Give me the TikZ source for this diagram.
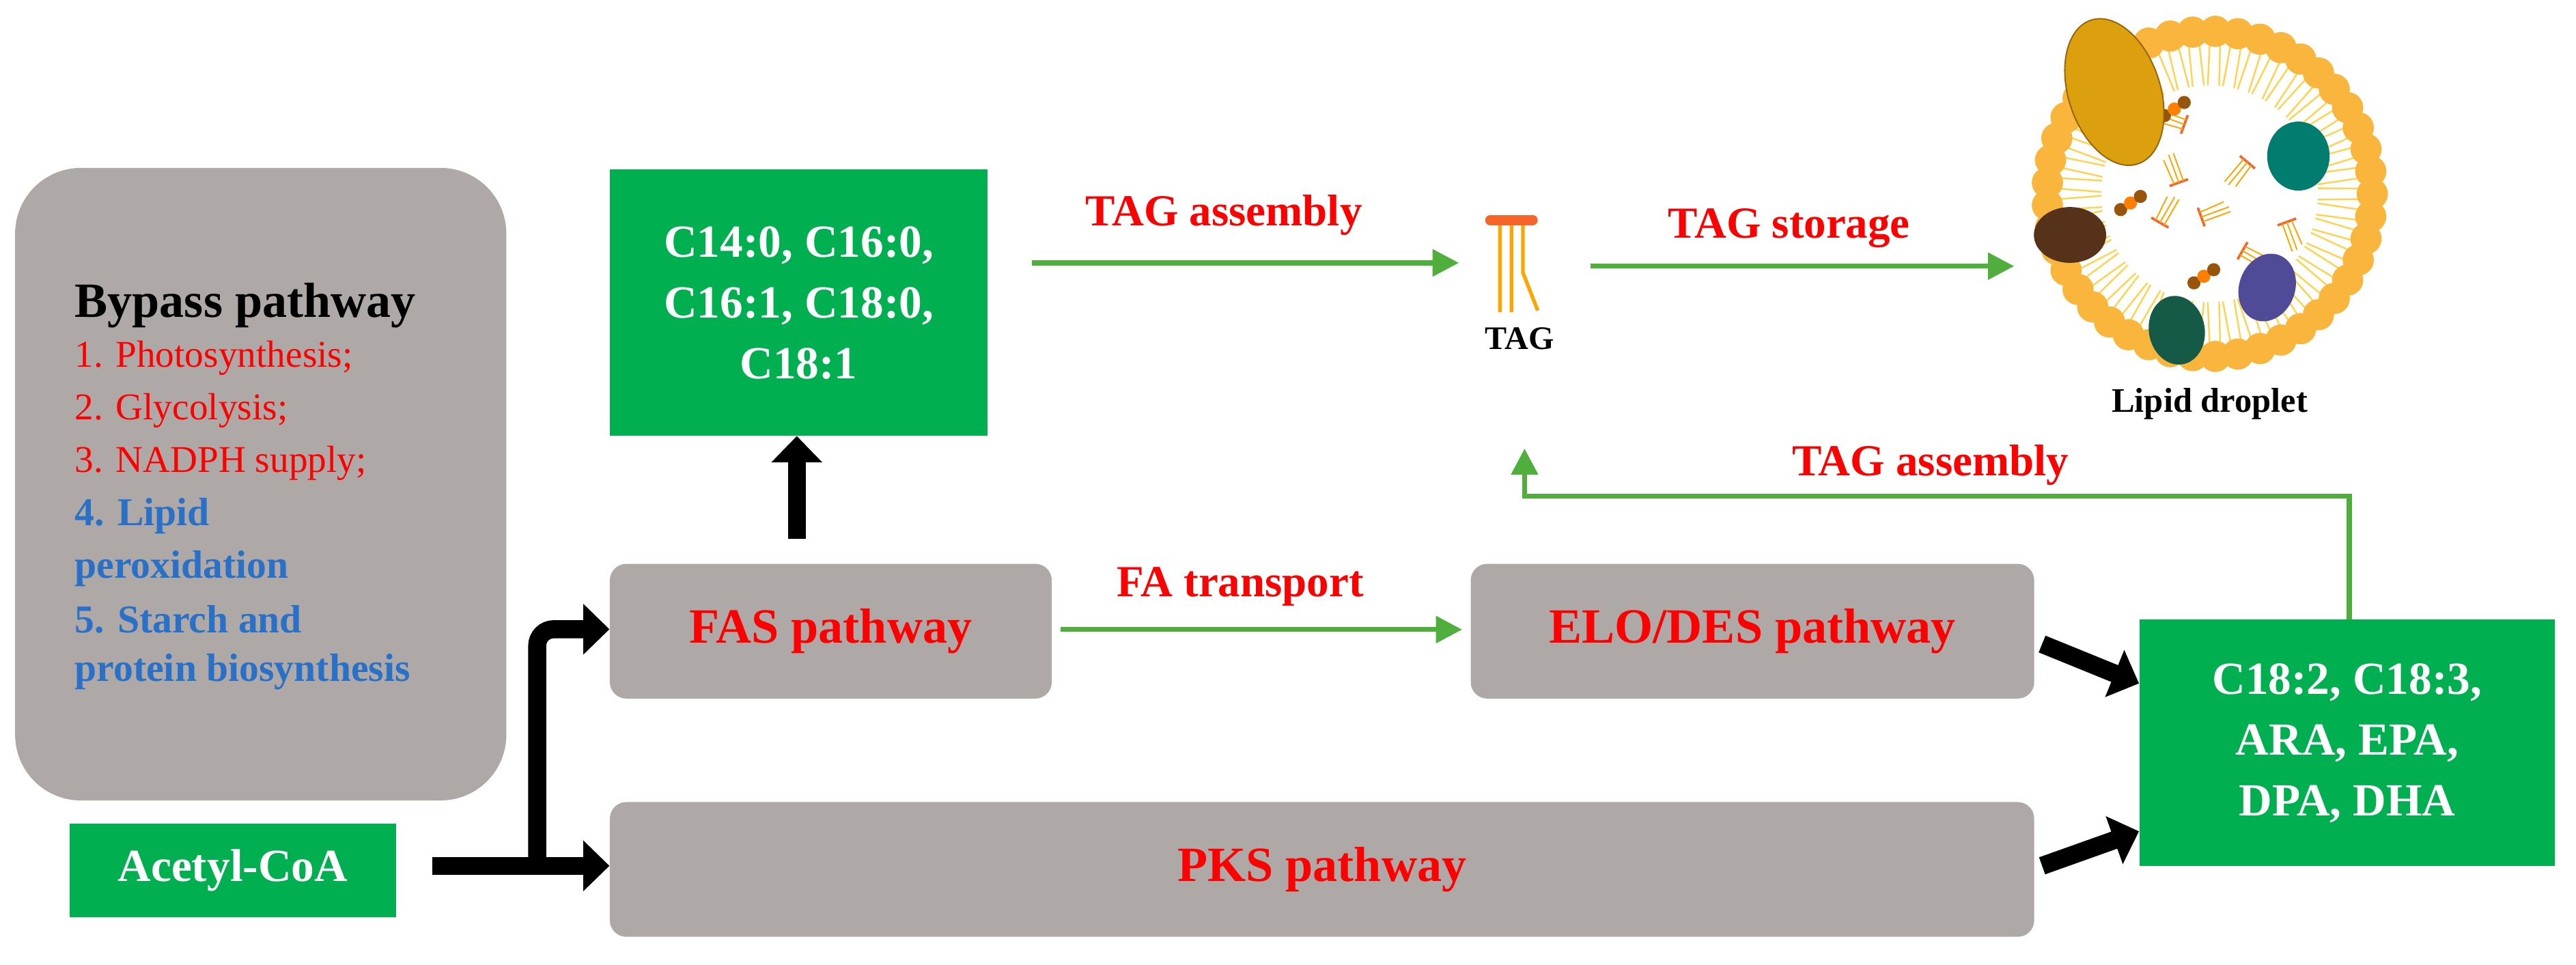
\documentclass[tikz,border=0pt]{standalone}
\usepackage{fontspec}
\setmainfont{Liberation Serif}
\usetikzlibrary{arrows.meta,shapes.geometric,calc}
\definecolor{gbox}{RGB}{0,176,80}
\definecolor{grey}{RGB}{174,169,166}
\definecolor{rd}{RGB}{255,0,0}
\definecolor{bl}{RGB}{40,112,200}
\definecolor{ga}{RGB}{80,175,60}
\definecolor{head}{RGB}{250,182,60}
\definecolor{tail}{RGB}{255,210,80}
\definecolor{tagor}{RGB}{255,165,0}
\definecolor{tagred}{RGB}{245,100,40}
\definecolor{pgold}{RGB}{220,160,15}
\definecolor{pgoldd}{RGB}{150,100,10}
\definecolor{pteal}{RGB}{0,125,110}
\definecolor{pbrown}{RGB}{85,50,25}
\definecolor{pnavy}{RGB}{80,75,150}
\definecolor{pdgreen}{RGB}{20,90,70}
\definecolor{dotb}{RGB}{150,85,10}
\begin{document}
\begin{tikzpicture}[x=1pt,y=-1pt,
  green box/.style={fill=gbox,draw=none,text=white,font=\fontsize{28}{37}\selectfont\bfseries,align=center},
  grey box/.style={fill=grey,draw=none,rounded corners=10pt,text=rd,font=\fontsize{30}{36}\selectfont\bfseries},
  lbl/.style={text=rd,font=\fontsize{27}{32}\selectfont\bfseries},
  red item/.style={anchor=west,text=rd,font=\fontsize{23}{28}\selectfont},
  blue item/.style={anchor=west,text=bl,font=\fontsize{24}{28}\selectfont\bfseries},
  garrow/.style={draw=ga,line width=3pt,-{Triangle[length=16pt,width=16pt]}},
  barrow/.style={draw=black,line width=11pt,-{Triangle[length=16pt,width=30pt]}}]
\useasboundingbox (0,0) rectangle (1568,587);
% bypass box
\node[fill=grey,rounded corners=40pt,minimum width=299pt,minimum height=385pt,anchor=north west] (bypass) at (9,102) {};
\node[anchor=west,font=\fontsize{30}{34}\selectfont\bfseries] (bt) at (42,186) {Bypass pathway};
\node[red item] (b1) at (42,218) {1. Photosynthesis;};
\node[red item] (b2) at (42,250) {2. Glycolysis;};
\node[red item] (b3) at (42,282) {3. NADPH supply;};
\node[blue item] (b4) at (42,314) {4. Lipid};
\node[blue item] (b4b) at (42,346) {peroxidation};
\node[blue item] (b5) at (42,377) {5. Starch and};
\node[blue item] (b5b) at (42,409) {protein biosynthesis};
% boxes
\node[green box,minimum width=199pt,minimum height=57pt,anchor=north west] (acoa) at (42,501) {Acetyl-CoA};
\node[green box,minimum width=230pt,minimum height=162pt,anchor=north west] (top) at (371,103) {C14:0, C16:0,\\ C16:1, C18:0,\\ C18:1};
\node[grey box,minimum width=269pt,minimum height=82pt,anchor=north west] (fas) at (371,343) {FAS pathway};
\node[grey box,minimum width=343pt,minimum height=82pt,anchor=north west] (elo) at (895,343) {ELO/DES pathway};
\node[grey box,minimum width=867pt,minimum height=82pt,anchor=north west] (pks) at (371,488) {PKS pathway};
\node[green box,minimum width=253pt,minimum height=150pt,anchor=north west] (right) at (1302,377) {C18:2, C18:3,\\ ARA, EPA,\\ DPA, DHA};
% black arrows
\coordinate (astart) at (263,527);
\coordinate (split) at (327,527);
\draw[barrow] (astart) -- (pks.west|-split);
\draw[barrow,rounded corners=10pt] (split) -- (327,383) -- (fas.west|-0,383);
\draw[barrow] (485,328) -- (top.south-|485,0);
\draw[barrow] (1243,392) -- (right.west|-0,416);
\draw[barrow] (1243,527) -- (right.west|-0,506);
% TAG icon
\node[font=\fontsize{20}{22}\selectfont\bfseries] (tag) at (925,206) {TAG};
\draw[tagor,line width=2.2pt] (913,137) -- (913,190) (920,137) -- (920,190) (927,137) -- (927,166) -- (936,189);
\draw[tagred,line width=6pt,line cap=round] (907,134) -- (933,134);
% green arrows
\coordinate (a1s) at (628,160); \coordinate (a1e) at (888,160);
\draw[garrow] (a1s) -- (a1e);
\node[lbl] at (745,131) {TAG assembly};
\coordinate (a2s) at (968,162); \coordinate (a2e) at (1226,162);
\draw[garrow] (a2s) -- (a2e);
\node[lbl] at (1089,139) {TAG storage};
\draw[garrow] ($(fas.east)+(5,-1)$) -- ($(elo.west)+(-5,-1)$);
\node[lbl] at (755,357) {FA transport};
\draw[garrow] (right.north-|1430,0) -- (1430,302) -- (928,302) -- (928,273);
\node[lbl] at (1175,283) {TAG assembly};
% lipid droplet
\begin{scope}[shift={(1345,118)}]
  \foreach \a in {0,8,...,352}{
    \draw[tail,line width=1pt] (\a-2:92) -- (\a-3:66) (\a+2:92) -- (\a+3:66);
    \fill[head] (\a:99) circle (9.5);
  }
  \foreach \p/\r in {60/40,150/35,250/45,320/30,20/50,200/20,110/15}{
    \begin{scope}[shift={(\p:\r)},rotate=\p]
      \draw[tagred,line width=1.5pt] (-6,0) -- (6,0);
      \draw[tagor,line width=0.8pt] (-3,0) -- (-3,18) (0,0) -- (0,18) (3,0) -- (4,16);
    \end{scope}
  }
  \foreach \p in {100,240,345,170}{
    \fill[dotb] (\p:55) circle (4); \fill[orange] ($(\p:55)+(6,-4)$) circle (4); \fill[dotb] ($(\p:55)+(12,-8)$) circle (4);
  }
  \filldraw[fill=pgold,draw=pgoldd,line width=0.8pt] (-58,-62) ellipse [x radius=28, y radius=46, rotate=18];
  \fill[pteal] (54,-23) ellipse [x radius=19, y radius=21];
  \fill[pbrown] (-85,25) ellipse [x radius=22, y radius=17];
  \fill[pnavy] (35,57) ellipse [x radius=17, y radius=21, rotate=-20];
  \fill[pdgreen] (-20,83) ellipse [x radius=17, y radius=21, rotate=10];
\end{scope}
\node[font=\fontsize{21}{24}\selectfont\bfseries] (ld) at (1345,246) {Lipid droplet};
\end{tikzpicture}
\end{document}
